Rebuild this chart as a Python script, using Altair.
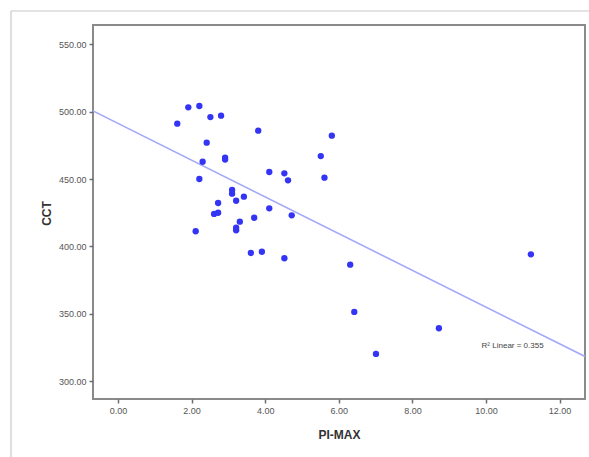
import altair as alt
import pandas as pd

# PI-MAX values (x) and CCT values (y)
pi_max = [1.91, 2.21, 1.61, 2.51, 2.80, 3.81, 5.81, 2.41, 5.51, 2.30,
          2.91, 2.91, 4.11, 4.52, 4.62, 5.61, 2.21, 3.10, 3.10, 3.42,
          3.21, 2.72, 4.11, 2.61, 2.72, 4.72, 3.70, 3.31, 3.21, 3.21,
          2.11, 3.61, 3.91, 4.52, 6.31, 11.22, 6.42, 8.72, 7.01]
cct = [503.1, 504.1, 491.0, 495.9, 496.9, 485.8, 482.1, 476.9, 467.0, 462.8,
       465.9, 464.4, 455.2, 454.2, 449.0, 451.0, 450.0, 441.9, 439.1, 436.9,
       433.9, 432.2, 428.3, 424.1, 425.0, 423.1, 421.3, 418.4, 413.9, 412.0,
       411.3, 395.2, 396.1, 391.3, 386.5, 394.2, 351.5, 339.4, 320.4]

# Fit line end points
fit_x = [-0.68, 12.69]
fit_y = [500.4, 318.5]

x_ticks = [0, 2, 4, 6, 8, 10, 12]
y_ticks = [300, 350, 400, 450, 500, 550]
x_domain = [-0.68, 12.69]
y_domain = [287.0, 564.1]

r2_label = ["R² Linear = 0.355"]
r2_pos_x = [9.88]
r2_pos_y = [325.9]

pts = pd.DataFrame({"PI-MAX": pi_max, "CCT": cct})
fit = pd.DataFrame({"PI-MAX": fit_x, "CCT": fit_y})
ann = pd.DataFrame({"PI-MAX": r2_pos_x, "CCT": r2_pos_y, "t": r2_label})

FONT = "Liberation Sans"

xscale = alt.Scale(domain=x_domain, nice=False, zero=False)
yscale = alt.Scale(domain=y_domain, nice=False, zero=False)

xaxis = alt.Axis(values=x_ticks, format=".2f", title="PI-MAX", grid=False,
                 domain=False, tickColor="#6e6e6e", tickSize=4, tickWidth=1.5,
                 labelFont=FONT, labelFontSize=9, labelColor="#555555",
                 labelPadding=3,
                 titleFont=FONT, titleFontSize=12, titleFontWeight="bold",
                 titleColor="#333333", titleY=35, titleBaseline="middle")
yaxis = alt.Axis(values=y_ticks, format=".2f", title="CCT", grid=False,
                 domain=False, tickColor="#6e6e6e", tickSize=4, tickWidth=1.5,
                 labelFont=FONT, labelFontSize=9, labelColor="#555555",
                 labelPadding=3,
                 titleFont=FONT, titleFontSize=12, titleFontWeight="bold",
                 titleColor="#333333", titleX=-47, titleY=188,
                 titleBaseline="middle", titleAlign="center", titleAngle=270)

line = alt.Chart(fit).mark_line(color="#a3a8f7", strokeWidth=1.6, clip=True).encode(
    x=alt.X("PI-MAX:Q", scale=xscale, axis=xaxis),
    y=alt.Y("CCT:Q", scale=yscale, axis=yaxis),
)

points = alt.Chart(pts).mark_circle(size=40, color="#3434f5", opacity=1).encode(
    x=alt.X("PI-MAX:Q", scale=xscale),
    y=alt.Y("CCT:Q", scale=yscale),
)

text = alt.Chart(ann).mark_text(align="left", baseline="middle", fontSize=8,
                                font=FONT, color="#444444").encode(
    x=alt.X("PI-MAX:Q", scale=xscale),
    y=alt.Y("CCT:Q", scale=yscale),
    text="t:N",
)

frame_left = alt.Chart(pd.DataFrame({"a": [0]})).mark_rule(
    color="#c8c8c8", strokeWidth=1.2).encode(
    x=alt.value(-82), y=alt.value(-14), y2=alt.value(440))
frame_top = alt.Chart(pd.DataFrame({"a": [0]})).mark_rule(
    color="#c8c8c8", strokeWidth=1.2).encode(
    x=alt.value(-82), x2=alt.value(500), y=alt.value(-14))

chart = alt.layer(frame_left, frame_top, line, points, text).properties(
    width=492, height=374,
    autosize=alt.AutoSizeParams(type="none"),
    padding={"left": 93, "top": 25, "right": 4, "bottom": 58},
    background="white",
).configure_view(stroke="#8a8a8a", strokeWidth=2)

chart.save("out.html", embed_options={"renderer": "svg", "actions": False})
